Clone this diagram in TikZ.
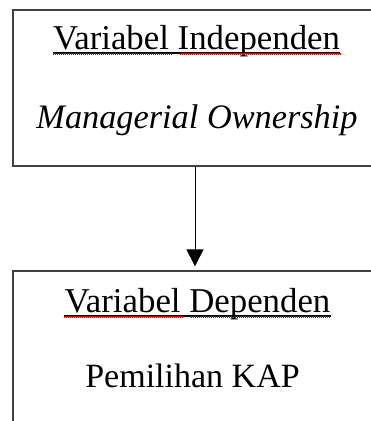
\documentclass[tikz,border=0pt]{standalone}
\usepackage{fontspec}
\setmainfont{Liberation Serif}
\usetikzlibrary{arrows.meta,calc}
\begin{document}
\begin{tikzpicture}[x=1pt,y=1pt,
  boxframe/.style={draw=black!75,line width=1.3pt,inner sep=0pt},
  label/.style={inner sep=0pt,anchor=base,font=\fontsize{34.8}{40}\selectfont},
  uline/.style={black,line width=1.1pt},
  spell/.style={red!85!black,line width=1.1pt,dash pattern=on 1pt off 1pt},
  conn/.style={line width=1pt,-{Triangle[width=17pt,length=17pt]}}]
\useasboundingbox (0,0) rectangle (371,-421);
\clip (0,0) rectangle (371,-421);
\node[boxframe,minimum width=377pt,minimum height=156pt] (topbox) at (201.5,-88) {};
\node[boxframe,minimum width=377pt,minimum height=169pt] (botbox) at (201.5,-355.5) {};
\node[label] (t1) at (196.5,-49) {Variabel Independen};
\node[label,font=\fontsize{34.3}{40}\selectfont\itshape] (t2) at (197,-128) {Managerial Ownership};
\node[label] (t3) at (197.5,-312) {Variabel Dependen};
\node[label,font=\fontsize{34}{40}\selectfont] (t4) at (192.5,-387) {Pemilihan KAP};
% underlines
\draw[uline] ($(t1.base west)+(0,-4)$) -- ($(t1.base east)+(0,-4)$);
\draw[spell] ($(t1.base west)+(0,-5)$) -- ($(t1.base west)!0.412!(t1.base east)+(0,-5)$);
\draw[spell] ($(t1.base west)!0.442!(t1.base east)+(0,-5)$) -- ($(t1.base east)+(0,-5)$);
\draw[uline] ($(t3.base west)+(0,-4)$) -- ($(t3.base east)+(0,-4)$);
\draw[spell] ($(t3.base west)+(0,-5)$) -- ($(t3.base west)!0.444!(t3.base east)+(0,-5)$);
\draw[spell] ($(t3.base west)!0.477!(t3.base east)+(0,-5)$) -- ($(t3.base east)+(0,-5)$);
% connector
\coordinate (ax) at (195,0);
\draw[conn,shorten >=4pt] (topbox.south -| ax) -- (botbox.north -| ax);
\end{tikzpicture}
\end{document}
